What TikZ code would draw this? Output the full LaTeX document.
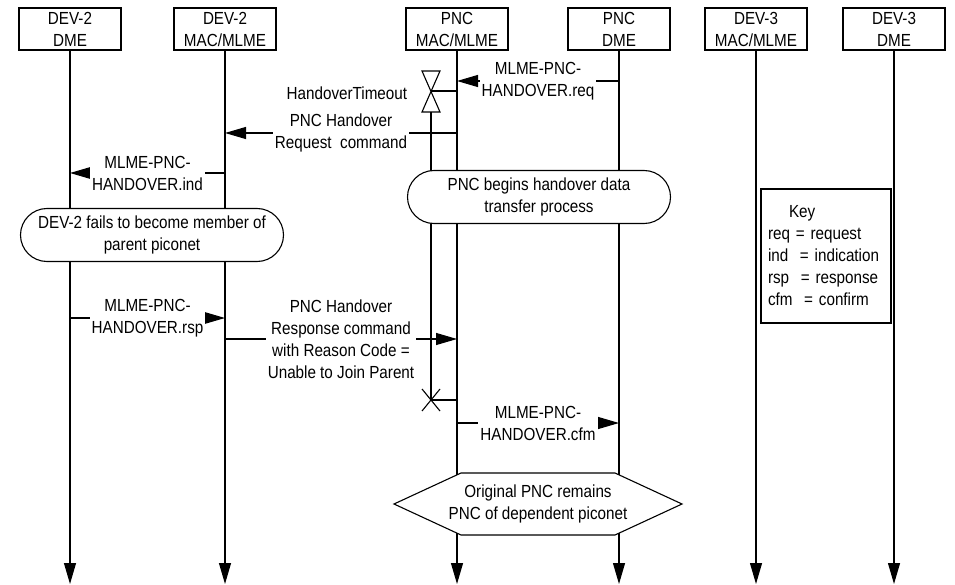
\documentclass[tikz,border=0pt]{standalone}
\usepackage{fontspec}
\setmainfont{Liberation Sans}[FakeStretch=0.87]
\usetikzlibrary{arrows.meta,shapes.misc}

\begin{document}
\begin{tikzpicture}[x=1pt,y=-1pt,>={Triangle[length=21pt,width=12pt]},line width=1.1pt,
    font=\fontsize{17.5}{22}\selectfont]
  \tikzset{box/.style={draw, minimum width=102pt, minimum height=42pt, inner sep=1pt, align=center},
    lbl/.style={fill=white, inner sep=2pt, align=center},
    note/.style={draw, fill=white, rounded rectangle, inner sep=2pt, align=center}}
  \useasboundingbox (0,0) rectangle (955,585);
  % entities
  \node[box] (d2dme) at (70,29) {DEV-2\\DME};
  \node[box] (d2mac) at (225,29) {DEV-2\\MAC/MLME};
  \node[box] (pmac) at (457,29) {PNC\\MAC/MLME};
  \node[box] (pdme) at (619,29) {PNC\\DME};
  \node[box] (d3mac) at (756,29) {DEV-3\\MAC/MLME};
  \node[box] (d3dme) at (894,29) {DEV-3\\DME};
  \coordinate (bot) at (0,584);
  \foreach \n in {d2dme,d2mac,pmac,pdme,d3mac,d3dme}
    \draw[->] (\n.south) -- (\n |- bot);
  % handover timer
  \coordinate (tmr) at (431,91);
  \coordinate (tmx) at (431,400);
  \draw (tmr) ++(-9,-20) -- ++(18,0) -- ++(-18,41) -- ++(18,0) -- cycle;
  \draw (tmr) -- (tmr -| pmac);
  \draw (tmr) ++(0,21) -- (tmx);
  \draw (tmx) ++(-9,-11) -- ++(18,22) (tmx) ++(9,-11) -- ++(-18,22);
  \draw (tmx) -- (tmx -| pmac);
  \node[anchor=east] (tlbl) at (411,93) {HandoverTimeout};
  % messages
  \coordinate (m1) at (0,81);
  \coordinate (m2) at (0,133);
  \coordinate (m3) at (0,173);
  \coordinate (m4) at (0,318);
  \coordinate (m5) at (0,339);
  \coordinate (m6) at (0,423);
  \draw[->] (pdme |- m1) -- node[lbl] {MLME-PNC-\\HANDOVER.req} (pmac |- m1);
  \draw[->] (pmac |- m2) -- node[lbl] {PNC Handover\\Request\ \ command} (d2mac |- m2);
  \draw[->] (d2mac |- m3) -- node[lbl] {MLME-PNC-\\HANDOVER.ind} (d2dme |- m3);
  \draw[->] (d2dme |- m4) -- node[lbl] {MLME-PNC-\\HANDOVER.rsp} (d2mac |- m4);
  \draw[->] (d2mac |- m5) -- node[lbl] {PNC Handover\\Response command\\with Reason Code =\\Unable to Join Parent} (pmac |- m5);
  \draw[->] (pmac |- m6) -- node[lbl] {MLME-PNC-\\HANDOVER.cfm} (pdme |- m6);
  % states
  \node[note, minimum width=267pt, minimum height=53pt] (xfer) at (539,197) {PNC begins handover data\\transfer process};
  \node[note, minimum width=267pt, minimum height=53pt] (fail) at (152,235) {DEV-2 fails to become member of\\parent piconet};
  \coordinate (origc) at (538,504);
  \filldraw[fill=white] (origc) ++(-144,0) -- ++(67,-31) -- ++(154,0) -- ++(67,31)
    -- ++(-67,31) -- ++(-154,0) -- cycle;
  \node[inner sep=1pt, align=center] (orig) at (origc) {Original PNC remains\\PNC of dependent piconet};
  % key
  \node[draw, fill=white, text width=116pt, inner xsep=7pt, minimum height=134pt, align=left] (key) at (826,256)
    {\hspace*{21pt}Key\\req = request\\ind\ \ = indication\\rsp\ \ = response\\cfm\ \ = confirm};
\end{tikzpicture}
\end{document}
